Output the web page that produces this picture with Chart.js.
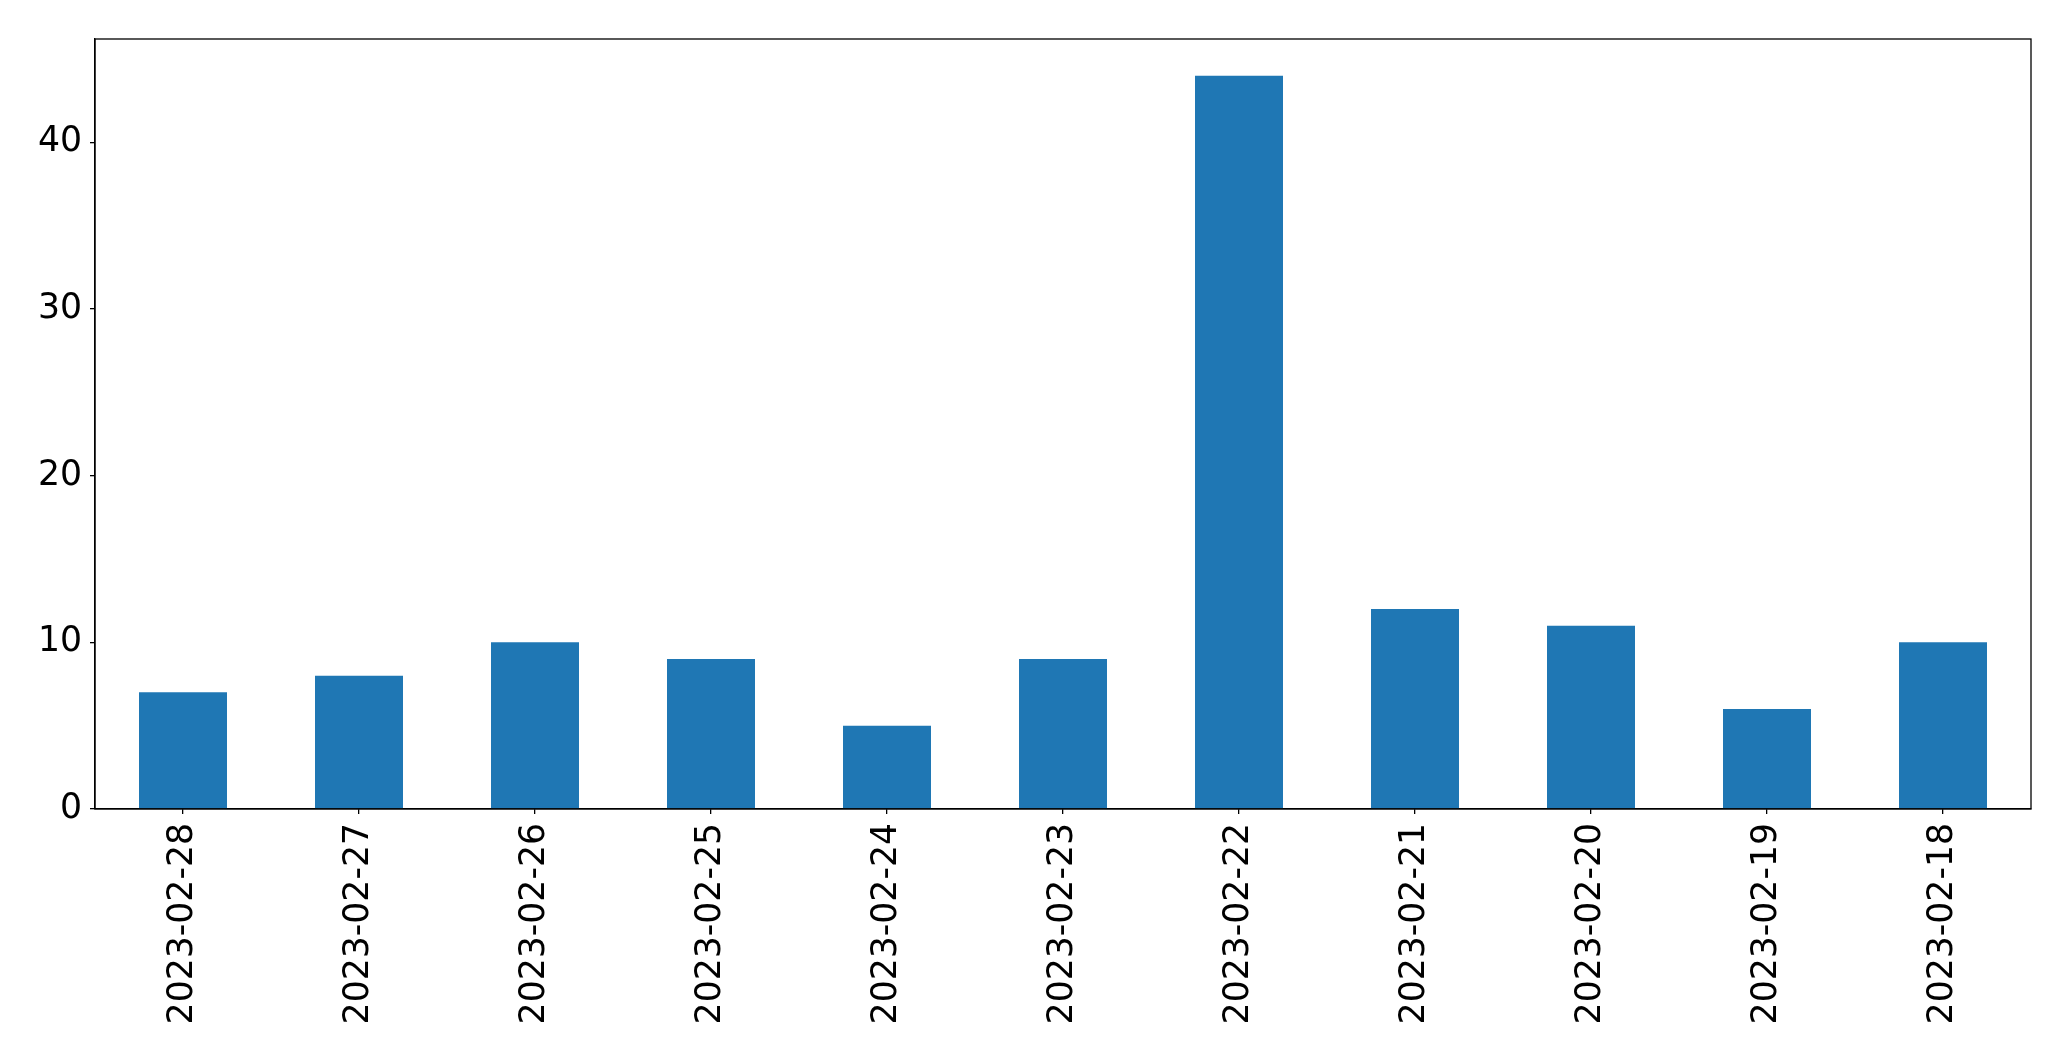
<!DOCTYPE html>
<html>
<head>
<meta charset="utf-8">
<script src="https://cdn.jsdelivr.net/npm/chart.js@4/dist/chart.umd.min.js"></script>
<style>
html,body{margin:0;padding:0;background:#fff;}
#wrap{width:2071px;height:1061px;}
</style>
</head>
<body>
<div id="wrap"><canvas id="c" width="2071" height="1061"></canvas></div>
<script>
const categories = ["2023-02-28","2023-02-27","2023-02-26","2023-02-25","2023-02-24","2023-02-23","2023-02-22","2023-02-21","2023-02-20","2023-02-19","2023-02-18"];
const counts = [7, 8, 10, 9, 5, 9, 44, 12, 11, 6, 10];
const yMax = 46.2;
const yStep = 10;

const frame = {
  id: 'frame',
  afterDatasetsDraw(chart) {
    const a = chart.chartArea, ctx = chart.ctx;
    ctx.save();
    ctx.strokeStyle = '#000';
    ctx.lineWidth = 1.3;
    ctx.strokeRect(a.left, a.top, a.right - a.left, a.bottom - a.top);
    ctx.restore();
  }
};

new Chart(document.getElementById('c'), {
  type: 'bar',
  data: {
    labels: categories,
    datasets: [{ data: counts, backgroundColor: '#1f77b4', borderWidth: 0, barPercentage: 0.5, categoryPercentage: 1.0 }]
  },
  options: {
    responsive: false,
    animation: false,
    devicePixelRatio: 1,
    layout: { padding: { top: 39, right: 40, left: 0, bottom: 0 } },
    plugins: { legend: { display: false }, tooltip: { enabled: false } },
    scales: {
      x: {
        offset: true,
        grid: { offset: false, drawOnChartArea: false, drawTicks: true, tickLength: 5, color: '#000', lineWidth: 1.3 },
        border: { display: true, color: '#000', width: 1.3 },
        ticks: { color: '#000', font: { family: 'DejaVu Sans', size: 34.67 }, minRotation: 90, maxRotation: 90, padding: 9, autoSkip: false },
        afterFit(s) { s.height = 252; }
      },
      y: {
        min: 0, max: yMax,
        grid: { drawOnChartArea: false, drawTicks: true, tickLength: 5, color: '#000', lineWidth: 1.3 },
        border: { display: true, color: '#000', width: 1.3 },
        ticks: { stepSize: yStep, includeBounds: false, color: '#000', font: { family: 'DejaVu Sans', size: 34.67 }, padding: 8 },
        afterFit(s) { s.width = 95; }
      }
    }
  },
  plugins: [frame]
});
</script>
</body>
</html>
